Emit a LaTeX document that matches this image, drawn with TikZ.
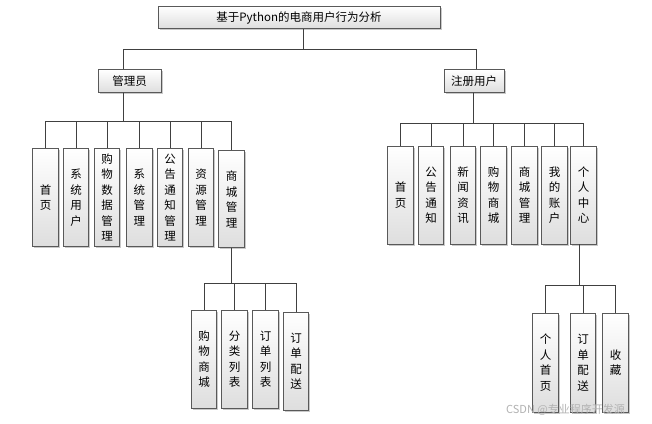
\documentclass[tikz,border=0pt]{standalone}
\usepackage{fontspec}
\setmainfont{Noto Sans CJK SC}
\usetikzlibrary{shadows}
\begin{document}
\begin{tikzpicture}[x=1pt,y=-1pt,
 box/.style={draw=black!65, line width=0.8pt, top color=white, bottom color=black!13,
   drop shadow={shadow xshift=1.6pt,shadow yshift=-1.6pt,opacity=0.35,fill=black!60},
   inner sep=0pt, align=center, font=\fontsize{11.5}{15.5}\selectfont},
 vb/.style={box, minimum width=25.5pt, minimum height=98pt},
 hb/.style={box, minimum height=22.5pt},
 link/.style={draw=black!75, line width=0.8pt}]
\useasboundingbox (0,0) rectangle (652,423);
\fill[white] (0,0) rectangle (652,423);

% top levels
\node[hb, minimum width=282pt] (top) at (299,17.5) {基于Python的电商用户行为分析};
\node[hb, minimum width=63pt] (admin) at (129.5,81) {管理员};
\node[hb, minimum width=60pt] (user) at (474,81) {注册用户};

% admin children
\node[vb] (L1) at (45.5,197.5) {首\\页};
\node[vb] (L2) at (76,197.5) {系\\统\\用\\户};
\node[vb] (L3) at (107,197.5) {购\\物\\数\\据\\管\\理};
\node[vb] (L4) at (139.3,197.5) {系\\统\\管\\理};
\node[vb] (L5) at (170,197.5) {公\\告\\通\\知\\管\\理};
\node[vb] (L6) at (201,197.5) {资\\源\\管\\理};
\node[vb, minimum height=97pt] (L7) at (231.5,199.3) {商\\城\\管\\理};

% shop management children
\node[vb] (S1) at (204,359) {购\\物\\商\\城};
\node[vb] (S2) at (234.5,359) {分\\类\\列\\表};
\node[vb] (S3) at (265.5,359) {订\\单\\列\\表};
\node[vb] (S4) at (296,361) {订\\单\\配\\送};

% user children
\node[vb] (R1) at (400.5,195) {首\\页};
\node[vb] (R2) at (431,195) {公\\告\\通\\知};
\node[vb] (R3) at (463,195) {新\\闻\\资\\讯};
\node[vb] (R4) at (493.5,195) {购\\物\\商\\城};
\node[vb] (R5) at (524.5,195) {商\\城\\管\\理};
\node[vb] (R6) at (554.5,195) {我\\的\\账\\户};
\node[vb] (R7) at (583.5,195) {个\\人\\中\\心};

% personal center children
\node[vb, minimum height=99pt] (P1) at (545.5,362.5) {个\\人\\首\\页};
\node[vb, minimum height=99pt] (P2) at (583,362.5) {订\\单\\配\\送};
\node[vb, minimum height=99pt] (P3) at (615.5,362.5) {收\\藏};

% connectors
\draw[link] ([xshift=4pt]top.south) -- ++(0,20) -| ([xshift=-6pt]admin.north);
\draw[link] ([xshift=4pt]top.south) -- ++(0,20) -| ([xshift=2pt]user.north);
\foreach \c in {L1,L2,L3,L4,L5,L6,L7}
  \draw[link] ([xshift=-6pt]admin.south) -- ++(0,28.75) -| (\c.north);
\foreach \c in {R1,R2,R3,R4,R5,R6,R7}
  \draw[link] ([xshift=-1pt]user.south) -- ++(0,30.75) -| (\c.north);
\foreach \c in {S1,S2,S3,S4}
  \draw[link] (L7.south) -- ++(0,35) -| (\c.north);
\foreach \c in {P1,P2,P3}
  \draw[link] ([xshift=-4pt]R7.south) -- ++(0,41) -| (\c.north);

\node[text=black!30, font=\fontsize{11}{13}\selectfont, anchor=west, inner sep=0pt] (wm) at (506,410) {CSDN @专业程序开发源};
\end{tikzpicture}
\end{document}
